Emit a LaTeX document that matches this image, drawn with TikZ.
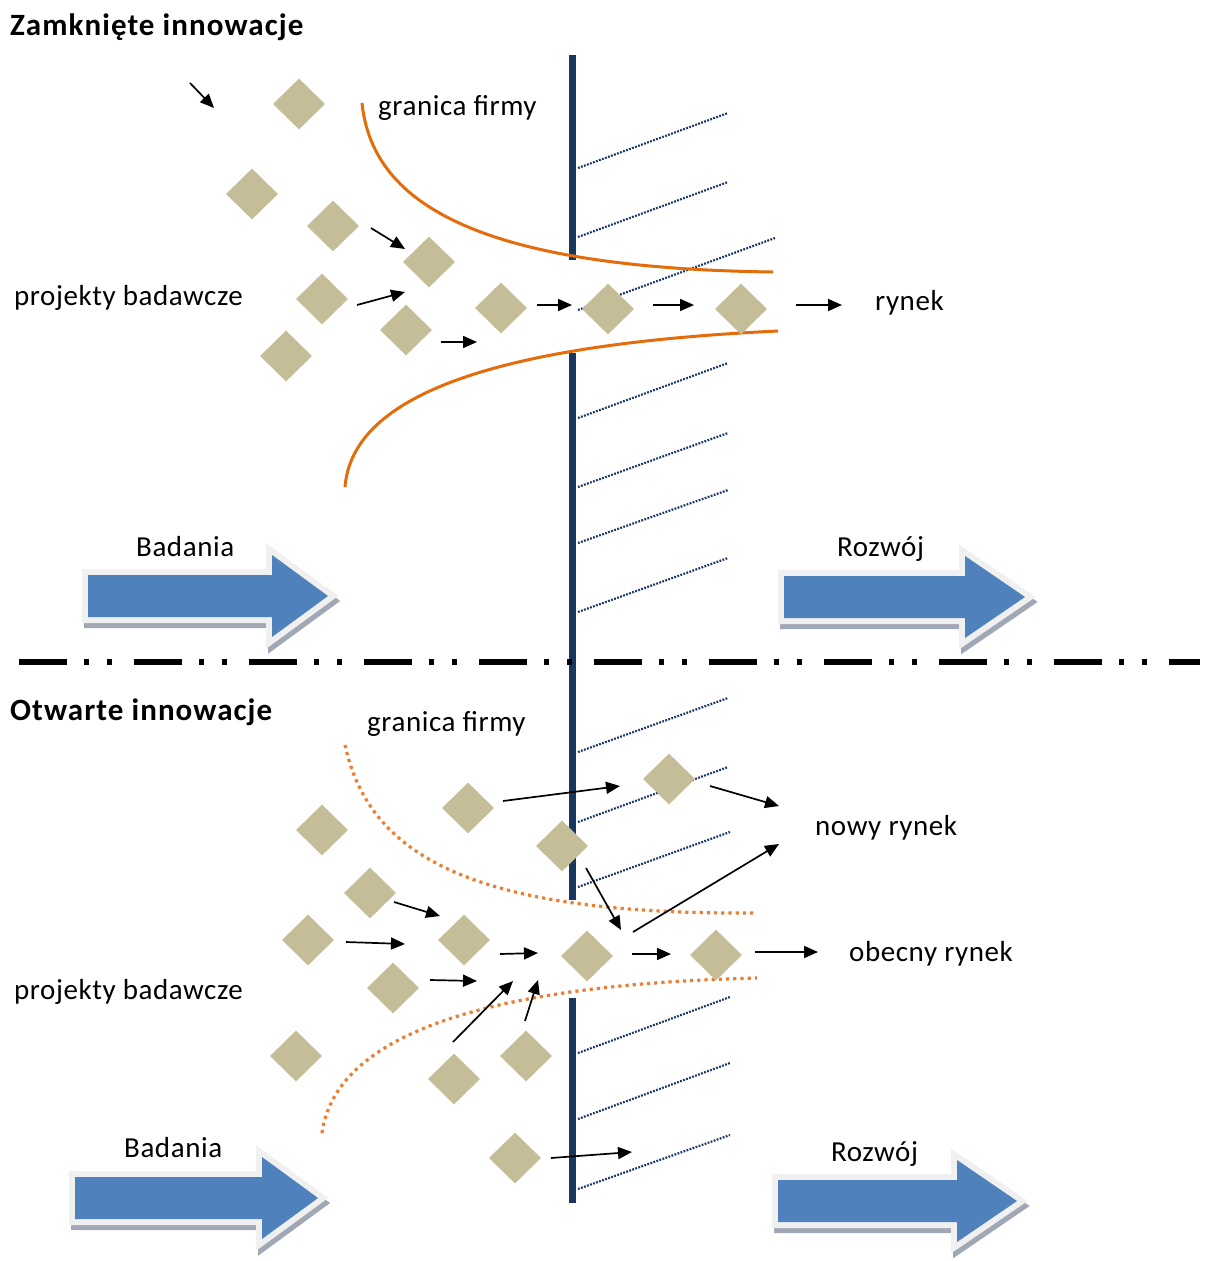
\documentclass[tikz,border=0pt]{standalone}
\usepackage{fontspec}
\setmainfont{Carlito}
\usetikzlibrary{arrows.meta,shapes.geometric}
\definecolor{diacol}{RGB}{196,189,151}
\definecolor{wallcol}{RGB}{23,55,94}
\definecolor{hatchcol}{RGB}{25,55,100}
\definecolor{bordsolid}{RGB}{228,108,10}
\definecolor{borddot}{RGB}{237,125,49}
\definecolor{flowblue}{RGB}{79,129,189}
\definecolor{framecol}{RGB}{240,240,240}
\definecolor{shadecol}{RGB}{160,168,182}

% broad block arrow: left x, neck x, tip x, centre y
\newcommand\BlkArrow[4]{%
  \pgfmathsetmacro\nk{#2-#1}%
  \pgfmathsetmacro\tp{#3-#1}%
  \begin{scope}[shift={(#1,#4)}]
    \foreach \dx/\dy/\sty in {2/5/bshadow,0/0/bframe,0/0/bbody}{
      \path[\sty,shift={(\dx,\dy)}] (0,-21) -- (\nk,-21) -- (\nk,-41) -- (\tp,0)
        -- (\nk,41) -- (\nk,21) -- (0,21) -- cycle;
    }
  \end{scope}}

\tikzset{
  bshadow/.style={fill=shadecol,draw=shadecol,line width=12pt,line join=miter},
  bframe/.style={fill=framecol,draw=framecol,line width=12pt,line join=miter},
  bbody/.style={fill=flowblue},
  dia/.style={diamond,fill=diacol,draw=none,minimum width=52pt,minimum height=51pt,inner sep=0pt},
  flow/.style={draw=black,line width=1.7pt,-{Triangle[length=14pt,width=12pt]}},
  wall/.style={draw=wallcol,line width=7pt},
  hatch/.style={draw=hatchcol,line width=2.2pt,dash pattern=on 1.8pt off 1.4pt},
  edgesolid/.style={draw=bordsolid,line width=3pt},
  edgedot/.style={draw=borddot,line width=3.2pt,dash pattern=on 3.2pt off 4pt},
  lbl/.style={font=\fontsize{29}{34}\selectfont\addfontfeature{LetterSpace=2},inner sep=0pt,anchor=base west},
  ttl/.style={font=\fontsize{31}{36}\selectfont\bfseries\addfontfeature{LetterSpace=3.5},inner sep=0pt,anchor=base west},
}

\begin{document}
\begin{tikzpicture}[x=1pt,y=-1pt]
\useasboundingbox[fill=white] (0,0) rectangle (1208,1261);

% hatching on the market side of the firm boundary
\foreach \ya/\xb/\yb in {168/728/113,237/728/182,310/775/238,418/728/363,487/728/433,
  543/728/490,612/728/558,752/728/698,822/728/767,887/730/832,1053/730/997,
  1119/730/1063,1189/730/1135}{
  \draw[hatch] (578,\ya) -- (\xb,\yb);
}

% firm boundary wall
\draw[wall] (572,55) -- (572,260);
\draw[wall] (572,353) -- (572,900);
\draw[wall] (572,998) -- (572,1203);

% separator between the two models
\draw[black,line width=6.5pt,dash pattern=on 48pt off 17pt on 5pt off 18pt on 5pt off 22pt] (19,662) -- (1200,662);

% funnel, closed model
\draw[edgesolid] (362,103) .. controls (372,200) and (470,268) .. (773,272);
\draw[edgesolid] (345,487) .. controls (352,400) and (480,345) .. (778,331);

% funnel, open model
\draw[edgedot] (345,745) .. controls (370,860) and (480,915) .. (757,913);
\draw[edgedot] (322,1133) .. controls (335,1040) and (470,985) .. (757,978);

% block arrows
\BlkArrow{88}{272}{328}{596}
\BlkArrow{784}{965}{1025}{597}
\BlkArrow{75}{262}{318}{1198}
\BlkArrow{778}{957}{1017}{1201}

% research projects, closed model
\foreach \n/\x/\y in {1/299/104,2/252/194,3/333/226,4/429/262,5/322/299,6/406/330,
  7/286/356,8/501/308,9/608/309,10/741/309}{
  \node[dia] (t\n) at (\x,\y) {};
}
% research projects, open model
\foreach \n/\x/\y in {1/669/779,2/468/808,3/322/830,4/562/846,5/370/893,6/308/940,
  7/464/940,8/587/956,9/716/955,10/393/988,11/296/1056,12/526/1056,13/454/1079,14/515/1158}{
  \node[dia] (b\n) at (\x,\y) {};
}

% flow of projects, closed model
\foreach \n/\sx/\sy/\ex/\ey in {1/190/83/214/108,2/371/228/405/249,3/357/305/405/292,
  4/441/342/477/342,5/537/305/572/305,6/653/305/694/305,7/796/305/842/305}{
  \coordinate (ts\n) at (\sx,\sy);
  \coordinate (te\n) at (\ex,\ey);
  \draw[flow] (ts\n) -- (te\n);
}
% flow of projects, open model
\foreach \n/\sx/\sy/\ex/\ey in {1/503/801/620/786,2/710/786/779/806,3/586/868/621/930,
  4/633/932/779/844,5/394/902/440/916,6/346/942/405/944,7/500/954/538/953,
  8/430/980/477/981,9/453/1042/513/981,10/525/1021/538/980,11/632/954/671/954,
  12/755/952/818/952,13/551/1158/632/1152}{
  \coordinate (bs\n) at (\sx,\sy);
  \coordinate (be\n) at (\ex,\ey);
  \draw[flow] (bs\n) -- (be\n);
}

% labels
\node[ttl] (title1) at (10,35) {Zamknięte innowacje};
\node[lbl] (gran1) at (378,115) {granica firmy};
\node[lbl] (proj1) at (14,305) {projekty badawcze};
\node[lbl] (ryn1) at (875,310) {rynek};
\node[lbl] (bad1) at (136,556) {Badania};
\node[lbl] (roz1) at (837,556) {Rozwój};

\node[ttl] (title2) at (10,720) {Otwarte innowacje};
\node[lbl] (gran2) at (367,731) {granica firmy};
\node[lbl] (nowy) at (815,835) {nowy rynek};
\node[lbl] (obec) at (849,961) {obecny rynek};
\node[lbl] (proj2) at (14,999) {projekty badawcze};
\node[lbl] (bad2) at (124,1157) {Badania};
\node[lbl] (roz2) at (831,1161) {Rozwój};
\end{tikzpicture}
\end{document}
